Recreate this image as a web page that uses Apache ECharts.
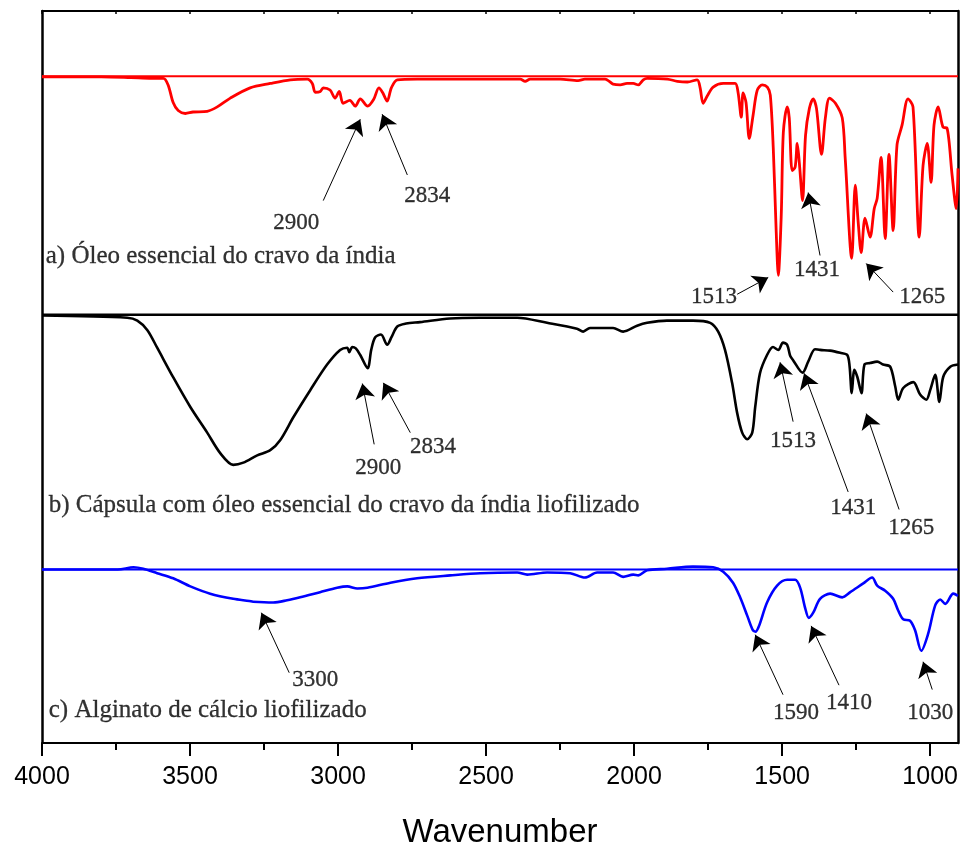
<!DOCTYPE html>
<html>
<head>
<meta charset="utf-8">
<title>FTIR</title>
<script src="https://cdn.jsdelivr.net/npm/echarts@6/dist/echarts.min.js"></script>
<style>
  html, body { margin: 0; padding: 0; background: #fff; }
  #chart { width: 964px; height: 845px; }
</style>
</head>
<body>
<div id="chart"></div>
<script>
// Wavenumber range (cm-1), plotted high -> low
const X_MAX = 4000;
const X_MIN = 906;
const MAJOR_TICKS = [1000, 1500, 2000, 2500, 3000, 3500, 4000];
const MINOR_TICKS = [1250, 1750, 2250, 2750, 3250, 3750];
const TOP_TICKS = [1000, 1250, 1500, 1750, 2000, 2250, 2500, 2750, 3000, 3250, 3500, 3750, 4000];

// a) clove essential oil: [wavenumber, transmittance %]
const oilSpectrum = [
  [4000,99.9],[3800,99.9],[3700,99.8],[3630,99.7],[3590,99.7],[3574,98.8],[3557,96.4],[3540,95.3],
  [3516,94.9],[3490,95.1],[3442,95.2],[3408,95.8],[3364,97.0],[3297,98.4],[3229,99.0],[3161,99.5],
  [3104,99.6],[3087,99.0],[3077,97.8],[3060,97.9],[3050,98.4],[3027,98.1],[3010,97.0],[2996,97.9],
  [2983,96.3],[2960,96.7],[2942,95.9],[2925,96.9],[2900,95.9],[2880,96.8],[2862,98.4],[2850,97.8],
  [2834,96.6],[2820,98.4],[2800,99.5],[2733,99.6],[2520,99.6],[2385,99.6],[2368,99.3],[2351,99.6],
  [2250,99.6],[2189,99.4],[2166,99.6],[2098,99.6],[2081,99.2],[2071,98.9],[2047,98.8],[2024,99.0],
  [2003,99.0],[1986,98.8],[1969,99.5],[1956,99.7],[1888,99.6],[1854,99.3],[1820,99.2],[1787,99.5],
  [1777,98.4],[1767,96.3],[1753,97.3],[1733,98.5],[1699,99.0],[1659,99.0],[1649,97.8],[1638,94.4],
  [1632,97.7],[1622,96.4],[1611,91.5],[1598,94.7],[1584,98.1],[1567,98.8],[1550,98.5],[1540,97.4],
  [1530,90.2],[1520,78.7],[1513,72.8],[1503,81.0],[1496,92.3],[1483,95.8],[1476,94.3],[1466,87.1],
  [1456,87.6],[1449,90.8],[1442,88.2],[1431,83.0],[1421,91.9],[1408,95.6],[1395,96.9],[1384,95.6],
  [1367,89.3],[1354,94.3],[1340,97.0],[1320,96.3],[1297,94.3],[1287,88.8],[1265,75.1],[1253,85.1],
  [1243,80.0],[1233,75.9],[1220,80.6],[1203,78.0],[1189,81.9],[1179,83.3],[1166,88.9],[1152,77.8],
  [1139,89.3],[1125,78.9],[1112,90.6],[1095,93.3],[1075,96.9],[1058,95.8],[1037,78.0],[1024,87.8],
  [1010,90.8],[997,85.5],[987,93.3],[973,95.8],[956,93.0],[943,92.9],[926,86.5],[912,81.9],[906,87.4]
];

// b) freeze-dried capsule with clove oil
const capsuleSpectrum = [
  [4000,99.9],[3712,99.6],[3678,99.2],[3644,97.9],[3611,95.5],[3556,91.4],[3499,87.4],[3442,83.9],
  [3398,81.1],[3354,79.5],[3320,79.8],[3273,80.8],[3229,81.5],[3195,82.9],[3151,86.0],[3094,89.7],
  [3037,93.2],[2993,95.2],[2969,95.5],[2962,94.9],[2952,95.6],[2940,95.4],[2925,94.5],[2900,92.7],
  [2888,95.2],[2875,96.9],[2855,97.3],[2834,95.9],[2820,96.9],[2800,98.4],[2770,98.8],[2723,99.0],
  [2622,99.5],[2521,99.6],[2395,99.6],[2294,98.9],[2193,98.1],[2172,97.7],[2149,98.2],[2071,98.2],
  [2037,97.7],[1990,98.5],[1956,98.9],[1889,99.2],[1801,99.2],[1743,98.9],[1716,97.7],[1693,95.2],
  [1669,90.7],[1652,86.6],[1635,83.9],[1618,83.0],[1601,83.9],[1591,87.4],[1575,92.0],[1551,94.5],
  [1531,95.6],[1513,95.2],[1497,96.2],[1483,95.9],[1473,94.4],[1463,93.8],[1431,92.1],[1412,93.6],
  [1389,95.3],[1372,95.2],[1338,95.1],[1304,94.8],[1280,94.5],[1272,92.9],[1265,89.3],[1256,92.5],
  [1246,91.5],[1232,89.3],[1222,93.2],[1203,93.4],[1179,93.6],[1159,93.2],[1135,92.9],[1118,90.2],
  [1108,88.4],[1091,90.0],[1057,90.8],[1034,89.1],[1013,88.4],[1000,89.7],[983,91.8],[969,88.1],
  [956,91.5],[932,92.9],[906,93.2]
];

// c) freeze-dried calcium alginate
const alginateSpectrum = [
  [4000,100.0],[3744,100.0],[3691,100.3],[3658,100.1],[3611,99.5],[3557,98.8],[3499,97.7],[3432,96.7],
  [3354,96.0],[3300,95.7],[3287,95.6],[3219,95.5],[3172,95.8],[3128,96.2],[3061,96.9],[3003,97.5],
  [2969,97.7],[2935,97.4],[2901,97.5],[2823,98.2],[2733,98.8],[2621,99.2],[2520,99.5],[2395,99.6],
  [2361,99.3],[2294,99.6],[2216,99.5],[2166,98.9],[2125,99.6],[2071,99.6],[2037,99.0],[2003,99.3],
  [1986,99.2],[1956,99.9],[1889,100.1],[1801,100.4],[1733,100.3],[1699,99.7],[1666,98.2],[1642,96.2],
  [1618,93.7],[1600,91.8],[1590,91.5],[1578,92.3],[1551,95.5],[1517,97.8],[1483,98.6],[1456,98.6],
  [1439,97.5],[1422,94.7],[1410,93.4],[1395,94.1],[1372,96.0],[1338,96.7],[1297,96.2],[1270,96.9],
  [1226,98.1],[1196,98.9],[1179,97.8],[1152,97.1],[1125,96.0],[1108,94.4],[1091,93.2],[1068,93.0],
  [1051,91.7],[1030,88.9],[1007,91.2],[983,95.1],[966,95.9],[949,95.3],[922,96.7],[906,96.4]
];

// Vertical offsets used to stack the three traces
const OFFSET_OIL = -8.9;
const OFFSET_CAPSULE = -41.5;
const OFFSET_ALGINATE = -76.3;

const PANEL_NAMES = [
  'a) Óleo essencial do cravo da índia',
  'b) Cápsula com óleo essencial do cravo da índia liofilizado',
  'c) Alginato de cálcio liofilizado'
];

// Band annotations: label, arrow tail, arrow tip, label centre (wavenumber, plot units)
const bandNotes = [
  { text: '2900', tail: [3050, 74.1], tip: [2925, 85.2], at: [3141, 71.1] },
  { text: '2834', tail: [2766, 77.6], tip: [2851, 85.9], at: [2699, 74.8] },
  { text: '1513', tail: [1652, 61.3], tip: [1547, 63.6], at: [1730, 60.9] },
  { text: '1431', tail: [1372, 66.6], tip: [1412, 75.2], at: [1382, 64.6] },
  { text: '1265', tail: [1125, 61.6], tip: [1216, 65.5], at: [1027, 60.9] },
  { text: '2900', tail: [2878, 40.8], tip: [2918, 49.1], at: [2864, 37.6] },
  { text: '2834', tail: [2756, 42.4], tip: [2847, 49.2], at: [2679, 40.4] },
  { text: '1513', tail: [1463, 43.9], tip: [1507, 52.0], at: [1463, 41.3] },
  { text: '1431', tail: [1277, 34.3], tip: [1426, 50.5], at: [1260, 32.1] },
  { text: '1265', tail: [1105, 31.9], tip: [1216, 45.0], at: [1064, 29.4] },
  { text: '3300', tail: [3165, 9.6], tip: [3259, 17.8], at: [3077, 8.6] },
  { text: '1590', tail: [1497, 6.6], tip: [1591, 14.8], at: [1453, 4.1] },
  { text: '1410', tail: [1308, 7.9], tip: [1402, 16.0], at: [1274, 5.5] },
  { text: '1030', tail: [993, 7.3], tip: [1024, 11.1], at: [1000, 4.1] }
];
const panelNameAt = [[3989, 66.5], [3979, 32.4], [3979, 4.5]];

function shifted(spectrum, offset) {
  return spectrum.map(p => [p[0], p[1] + offset]);
}
function baseline(offset) {
  return [[X_MAX, 100 + offset], [X_MIN, 100 + offset]];
}

const SERIF = '"Liberation Serif", "Times New Roman", serif';
const SANS = '"Liberation Sans", Arial, sans-serif';

function trace(data, color, width) {
  return {
    type: 'line', data: data, showSymbol: false, smooth: 0.3,
    lineStyle: { color: color, width: width }, silent: true, z: 3
  };
}

const chart = echarts.init(document.getElementById('chart'), null, { renderer: 'canvas' });

chart.setOption({
  animation: false,
  backgroundColor: '#ffffff',
  grid: { left: 42, right: 6, top: 11, bottom: 102, containLabel: false, outerBoundsMode: 'none' },
  xAxis: [
    {
      type: 'value', position: 'bottom', inverse: true, min: X_MIN, max: X_MAX,
      axisLine: { onZero: false, lineStyle: { color: '#000', width: 2 } },
      axisTick: { show: true, length: 13, customValues: MAJOR_TICKS, lineStyle: { color: '#000', width: 2 } },
      axisLabel: {
        customValues: MAJOR_TICKS, formatter: v => String(v),
        color: '#000', fontFamily: SANS, fontSize: 25, margin: 22
      },
      splitLine: { show: false },
      name: 'Wavenumber', nameLocation: 'middle', nameGap: 73,
      nameTextStyle: { color: '#000', fontFamily: SANS, fontSize: 33 }
    },
    {
      type: 'value', position: 'bottom', inverse: true, min: X_MIN, max: X_MAX,
      axisLine: { show: false, onZero: false },
      axisTick: { show: true, length: 7, customValues: MINOR_TICKS, lineStyle: { color: '#000', width: 2 } },
      axisLabel: { show: false }, splitLine: { show: false }
    },
    {
      type: 'value', position: 'top', inverse: true, min: X_MIN, max: X_MAX,
      axisLine: { onZero: false, lineStyle: { color: '#000', width: 2 } },
      axisTick: { show: true, inside: true, length: 3, customValues: TOP_TICKS, lineStyle: { color: '#000', width: 1.5 } },
      axisLabel: { show: false }, splitLine: { show: false }
    }
  ],
  yAxis: [
    {
      type: 'value', position: 'left', min: 0, max: 100,
      axisLine: { show: true, onZero: false, lineStyle: { color: '#000', width: 2.5 } },
      axisTick: { show: false }, axisLabel: { show: false }, splitLine: { show: false }
    },
    {
      type: 'value', position: 'right', min: 0, max: 100,
      axisLine: { show: true, onZero: false, lineStyle: { color: '#000', width: 2.5 } },
      axisTick: { show: false }, axisLabel: { show: false }, splitLine: { show: false }
    }
  ],
  series: [
    trace(baseline(OFFSET_OIL), '#ff0000', 2),
    trace(baseline(OFFSET_CAPSULE), '#000000', 2.5),
    trace(baseline(OFFSET_ALGINATE), '#0000ff', 2),
    trace(shifted(oilSpectrum, OFFSET_OIL), '#ff0000', 2.8),
    trace(shifted(capsuleSpectrum, OFFSET_CAPSULE), '#000000', 2.6),
    trace(shifted(alginateSpectrum, OFFSET_ALGINATE), '#0000ff', 2.6),
    {
      type: 'lines', coordinateSystem: 'cartesian2d', silent: true, z: 5,
      symbol: ['none', 'arrow'], symbolSize: [9, 15],
      lineStyle: { color: '#000', width: 1, opacity: 1, curveness: 0 },
      data: bandNotes.map(n => ({ coords: [n.tail, n.tip] }))
    },
    {
      type: 'scatter', silent: true, z: 6, symbolSize: 1,
      itemStyle: { color: 'rgba(0,0,0,0)' },
      label: {
        show: true, position: 'inside', formatter: '{b}',
        color: '#000', fontFamily: SERIF, fontSize: 23,
        textBorderColor: '#000', textBorderWidth: 0.3
      },
      data: bandNotes.map(n => ({ name: n.text, value: n.at }))
    },
    {
      type: 'scatter', silent: true, z: 6, symbolSize: 1,
      itemStyle: { color: 'rgba(0,0,0,0)' },
      label: {
        show: true, position: 'right', distance: 0, formatter: '{b}',
        color: '#000', fontFamily: SERIF, fontSize: 25,
        textBorderColor: '#000', textBorderWidth: 0.3
      },
      data: PANEL_NAMES.map((t, i) => ({ name: t, value: panelNameAt[i] }))
    }
  ]
});
</script>
</body>
</html>
